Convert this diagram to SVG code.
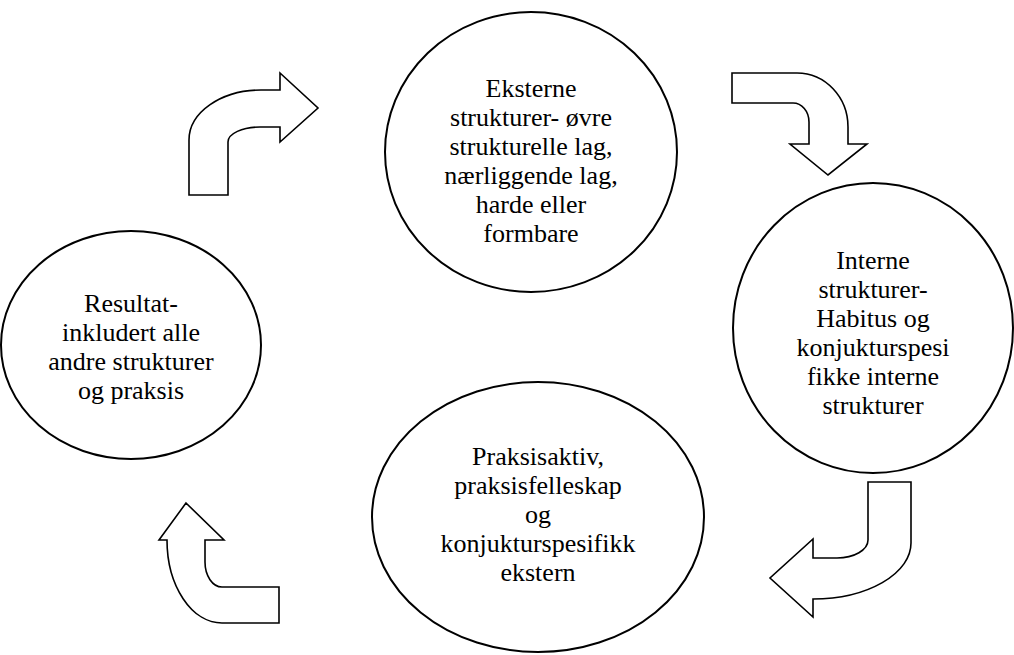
<svg xmlns="http://www.w3.org/2000/svg" width="1014" height="655" viewBox="0 0 1014 655">
<style>
.node ellipse{fill:#fff;stroke:#000;stroke-width:2}
.lbl{font-size:26px;fill:#000;text-anchor:middle}
.arrow{fill:#fff;stroke:#000;stroke-width:1.6;stroke-linejoin:miter}
</style>
<rect width="1014" height="655" fill="#fff"/>
<g id="connectors">
<path class="arrow" d="M 189 195 L 189 140 A 72 50 0 0 1 261 90 L 280 90 L 280 73 L 318 108 L 280 142 L 280 127 L 260 127 A 32 15 0 0 0 228 142 L 228 195 Z"/>
<path class="arrow" d="M 732 73 L 797 73 A 51 54 0 0 1 848 127 L 848 144 L 867 144 L 828 175 L 790 144 L 809 144 L 809 122 A 16 19 0 0 0 793 103 L 732 103 Z"/>
<path class="arrow" d="M 868 482 L 911 482 L 911 543 A 98 56 0 0 1 813 599 L 813 617 L 770 578 L 813 539 L 813 558 L 837 558 A 31 18 0 0 0 868 540 Z"/>
<path class="arrow" d="M 186 503 L 224 540 L 205 540 L 205 562 A 17 25 0 0 0 222 587 L 279 587 L 279 623 L 222 623 A 55 83 0 0 1 167 540 L 159 540 Z"/>
</g>
<g id="node-eksterne" class="node">
<ellipse cx="531" cy="152" rx="146" ry="140"/>
<g class="lbl" font-family="'Liberation Serif', 'Times New Roman', 'DejaVu Serif', serif">
<text x="531" y="97">Eksterne</text>
<text x="531" y="126">strukturer- øvre</text>
<text x="531" y="155">strukturelle lag,</text>
<text x="531" y="184">nærliggende lag,</text>
<text x="531" y="213">harde eller</text>
<text x="531" y="242">formbare</text>
</g>
</g>
<g id="node-interne" class="node">
<ellipse cx="873" cy="328" rx="140" ry="145"/>
<g class="lbl" font-family="'Liberation Serif', 'Times New Roman', 'DejaVu Serif', serif">
<text x="873" y="269">Interne</text>
<text x="873" y="298">strukturer-</text>
<text x="873" y="327">Habitus og</text>
<text x="873" y="356">konjukturspesi</text>
<text x="873" y="385">fikke interne</text>
<text x="873" y="414">strukturer</text>
</g>
</g>
<g id="node-praksis" class="node">
<ellipse cx="538" cy="517" rx="166" ry="135"/>
<g class="lbl" font-family="'Liberation Serif', 'Times New Roman', 'DejaVu Serif', serif">
<text x="538" y="465">Praksisaktiv,</text>
<text x="538" y="494">praksisfelleskap</text>
<text x="538" y="523">og</text>
<text x="538" y="552">konjukturspesifikk</text>
<text x="538" y="581">ekstern</text>
</g>
</g>
<g id="node-resultat" class="node">
<ellipse cx="131" cy="345" rx="130" ry="114"/>
<g class="lbl" font-family="'Liberation Serif', 'Times New Roman', 'DejaVu Serif', serif">
<text x="131" y="312">Resultat-</text>
<text x="131" y="341">inkludert alle</text>
<text x="131" y="370">andre strukturer</text>
<text x="131" y="399">og praksis</text>
</g>
</g>
</svg>
